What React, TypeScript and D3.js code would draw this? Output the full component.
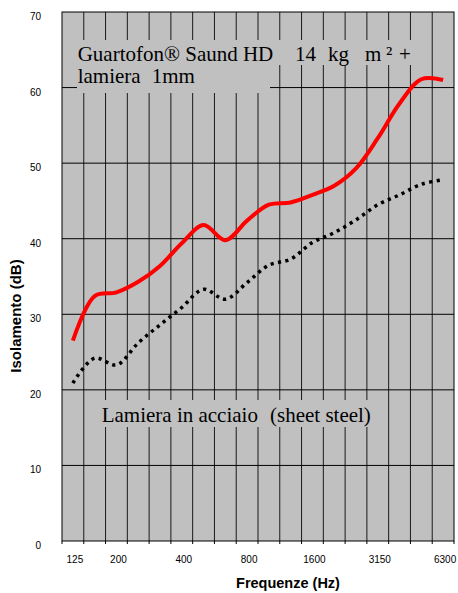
import { useEffect, useRef } from 'react'
import * as d3 from 'd3'

// one-third octave bands (Hz)
const frequencies = ['125', '160', '200', '250', '315', '400', '500', '630', '800', '1000', '1250', '1600', '2000', '2500', '3150', '4000', '5000', '6300']
const shownLabels = ['125', '200', '400', '800', '1600', '3150', '6300']
// Guartofon Saund HD 14 kg/m² + 1mm sheet
const guartofonValues = [26.5, 32.4, 32.9, 34.3, 36.4, 39.4, 41.8, 39.8, 42.4, 44.5, 44.8, 45.8, 47.0, 49.3, 53.3, 57.9, 61.1, 61.0]
// bare steel sheet
const steelValues = [20.9, 24.2, 23.3, 26.2, 28.6, 30.9, 33.3, 32.0, 34.2, 36.5, 37.3, 39.5, 40.8, 42.5, 44.5, 45.8, 47.2, 47.8]
const yTicks = [0, 10, 20, 30, 40, 50, 60, 70]

export default function App() {
  const svgRef = useRef<SVGSVGElement>(null)

  useEffect(() => {
    if (!svgRef.current) return
    const svg = d3.select(svgRef.current)
    svg.selectAll('*').remove()

    const width = 458
    const height = 593
    const plot = { left: 62, right: 454, top: 12, bottom: 541 }

    svg.attr('width', width).attr('height', height)

    const x = d3.scaleBand<string>().domain(frequencies).range([plot.left, plot.right]).padding(0)
    const y = d3.scaleLinear().domain([0, 70]).range([plot.bottom, plot.top])
    const cx = (f: string) => (x(f) as number) + x.bandwidth() / 2

    const sans = 'Arial, "Liberation Sans", Helvetica, sans-serif'
    const serif = '"Times New Roman", "Liberation Serif", serif'

    // plot background
    svg.append('rect')
      .attr('x', plot.left).attr('y', plot.top)
      .attr('width', plot.right - plot.left).attr('height', plot.bottom - plot.top)
      .attr('fill', '#c0c0c0')

    // vertical grid at band edges
    svg.append('g').selectAll('line')
      .data(frequencies.slice(1))
      .enter().append('line')
      .attr('x1', d => x(d) as number).attr('x2', d => x(d) as number)
      .attr('y1', plot.top).attr('y2', plot.bottom)
      .attr('stroke', '#1a1a1a').attr('stroke-width', 1)

    // horizontal grid
    svg.append('g').selectAll('line')
      .data(yTicks.slice(1, -1))
      .enter().append('line')
      .attr('x1', plot.left).attr('x2', plot.right)
      .attr('y1', d => y(d)).attr('y2', d => y(d))
      .attr('stroke', '#000').attr('stroke-width', 1)

    // text boxes (shaded, hiding grid behind)
    const boxes = [
      { x: 77, y: 40, w: 334, h: 25 },
      { x: 77, y: 65, w: 193, h: 28 },
      { x: 100, y: 400, w: 273, h: 27 },
    ]
    svg.append('g').selectAll('rect')
      .data(boxes)
      .enter().append('rect')
      .attr('x', d => d.x).attr('y', d => d.y)
      .attr('width', d => d.w).attr('height', d => d.h)
      .attr('fill', '#c0c0c0')

    // plot border
    svg.append('rect')
      .attr('x', plot.left).attr('y', plot.top)
      .attr('width', plot.right - plot.left).attr('height', plot.bottom - plot.top)
      .attr('fill', 'none').attr('stroke', '#000').attr('stroke-width', 1)

    // x tick marks below axis
    const edges = [plot.left, ...frequencies.slice(1).map(f => x(f) as number), plot.right]
    svg.append('g').selectAll('line')
      .data(edges)
      .enter().append('line')
      .attr('x1', d => d).attr('x2', d => d)
      .attr('y1', plot.bottom).attr('y2', plot.bottom + 3)
      .attr('stroke', '#000')

    // y tick labels
    svg.append('g').selectAll('text')
      .data(yTicks)
      .enter().append('text')
      .attr('x', 41).attr('y', d => y(d) + 8)
      .attr('text-anchor', 'end')
      .style('font-family', sans).style('font-size', '10px')
      .text(d => d)

    // x tick labels
    svg.append('g').selectAll('text')
      .data(shownLabels)
      .enter().append('text')
      .attr('x', d => cx(d) + 2).attr('y', 563)
      .attr('text-anchor', 'middle')
      .style('font-family', sans).style('font-size', '10px')
      .text(d => d)

    // axis titles
    svg.append('text')
      .attr('x', 288).attr('y', 588)
      .attr('text-anchor', 'middle')
      .style('font-family', sans).style('font-size', '14.5px').style('font-weight', 'bold')
      .text('Frequenze (Hz)')

    svg.append('text')
      .attr('transform', 'translate(21,316) rotate(-90)')
      .attr('text-anchor', 'middle')
      .style('font-family', sans).style('font-size', '15px').style('font-weight', 'bold')
      .text('Isolamento (dB)')

    // curves
    const line = d3.line<number>()
      .x((_, i) => cx(frequencies[i]))
      .y(d => y(d))
      .curve(d3.curveCatmullRom.alpha(0.5))

    svg.append('path')
      .attr('d', line(steelValues))
      .attr('fill', 'none')
      .attr('stroke', '#000')
      .attr('stroke-width', 3.5)
      .attr('stroke-dasharray', '3.2 4.3')

    svg.append('path')
      .attr('d', line(guartofonValues))
      .attr('fill', 'none')
      .attr('stroke', '#ff0000')
      .attr('stroke-width', 4)
      .attr('stroke-linejoin', 'round')

    // annotations
    const t1 = svg.append('text')
      .attr('y', 60.5)
      .style('font-family', serif).style('font-size', '21px').style('fill', '#000')
    t1.append('tspan').attr('x', 77.7).text('Guartofon® Saund HD')
    t1.append('tspan').attr('x', 295).text('14')
    t1.append('tspan').attr('x', 328).text('kg')
    t1.append('tspan').attr('x', 365).text('m')
    t1.append('tspan').attr('x', 386).text('²')
    t1.append('tspan').attr('x', 399).text('+')

    const t2 = svg.append('text')
      .attr('y', 83.3)
      .style('font-family', serif).style('font-size', '21px').style('fill', '#000')
    t2.append('tspan').attr('x', 77.7).text('lamiera')
    t2.append('tspan').attr('x', 151.7).text('1mm')

    const t3 = svg.append('text')
      .attr('y', 421.7)
      .style('font-family', serif).style('font-size', '21px').style('fill', '#000')
    t3.append('tspan').attr('x', 101.7).text('Lamiera in acciaio')
    t3.append('tspan').attr('x', 270).text('(sheet steel)')
  }, [])

  return (
    <svg ref={svgRef} style={{ position: 'absolute', left: 0, top: 0, background: '#fff' }}></svg>
  )
}
